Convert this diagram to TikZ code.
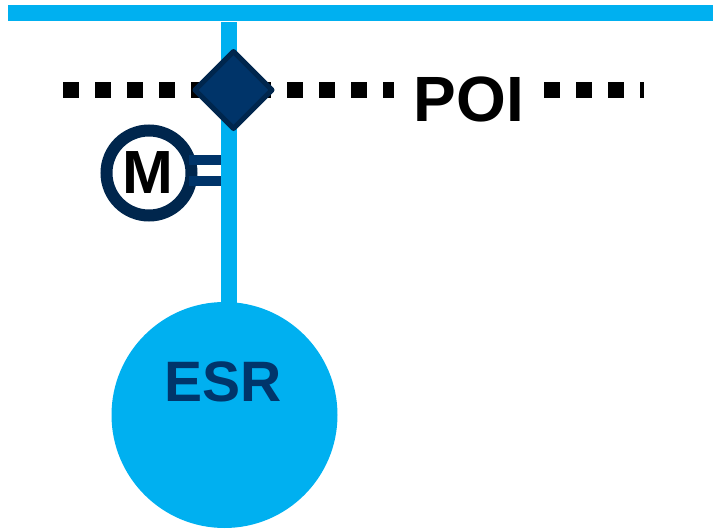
\documentclass[tikz,border=0pt]{standalone}
\usepackage{fontspec}
\setmainfont{Liberation Sans}
\usetikzlibrary{shapes.geometric}
\definecolor{busblue}{HTML}{00B0F0}
\definecolor{fillnavy}{HTML}{003469}
\definecolor{edgenavy}{HTML}{00264D}
\definecolor{esrtext}{HTML}{00356B}
\tikzset{
  busline/.style={draw=busblue,line width=16pt},
  poiline/.style={draw=black,line width=16pt,dash pattern=on 16pt off 16pt},
  motorlink/.style={draw=fillnavy,line width=10pt},
  breakerbox/.style={diamond,aspect=1,draw=edgenavy,fill=fillnavy,line width=5pt,line join=round,minimum width=77pt,minimum height=77pt,inner sep=0pt,outer sep=0pt},
  motorbox/.style={circle,draw=edgenavy,fill=white,line width=12pt,minimum size=85pt,inner sep=0pt,outer sep=0pt},
  esrbox/.style={circle,fill=busblue,minimum size=226pt,inner sep=0pt,outer sep=0pt},
  labeltext/.style={inner sep=0pt,font=\bfseries\fontsize{64}{64}\selectfont}
}
\begin{document}
\begin{tikzpicture}[x=1pt,y=-1pt]
\useasboundingbox (0,0) rectangle (713,530);
\coordinate (busL) at (8,13);
\coordinate (busR) at (713,13);
\coordinate (feedTop) at (229,22);
\coordinate (poiA) at (63,90);
\coordinate (poiB) at (394,90);
\coordinate (poiC) at (544,90);
\coordinate (poiD) at (644,90);
\coordinate (linkA) at (221,160);
\coordinate (linkB) at (221,181);
\node[esrbox] (esr) at (224.5,415) {};
\node[labeltext,text=esrtext,font=\bfseries\fontsize{57}{57}\selectfont] (esrlabel) at (223,381.5) {ESR};
\draw[busline] (busL) -- (busR);
\draw[busline] (feedTop) -- (229,310);
\draw[poiline] (poiA) -- (poiB);
\draw[poiline] (poiC) -- (poiD);
\node[labeltext] (poi) at (469,99) {POI};
\node[motorbox] (motor) at (149,173) {};
\node[inner sep=0pt,font=\bfseries\fontsize{61}{61}\selectfont] (motorlabel) at (148,173) {M};
\draw[motorlink] (motor.center |- linkA) ++(40,0) -- (linkA);
\draw[motorlink] (motor.center |- linkB) ++(40,0) -- (linkB);
\node[breakerbox] (breaker) at (233.5,90) {};
\end{tikzpicture}
\end{document}
